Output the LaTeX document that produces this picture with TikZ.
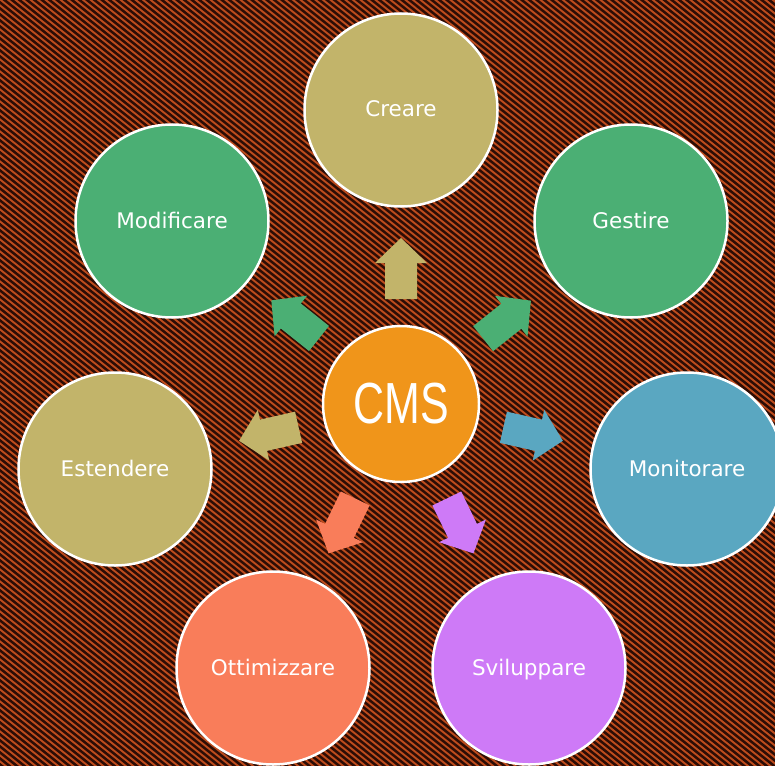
\documentclass[tikz,border=0pt]{standalone}
\usepackage{fontspec}
\setmainfont{DejaVu Sans}
\newfontfamily\cmsfont{Liberation Sans}
\usetikzlibrary{calc}
\definecolor{tanc}{HTML}{C2B46A}
\definecolor{greenc}{HTML}{4BAF74}
\definecolor{bluec}{HTML}{5AA7C1}
\definecolor{purplec}{HTML}{CE7AF7}
\definecolor{coralc}{HTML}{F97D5A}
\definecolor{orangec}{HTML}{F0951A}
\definecolor{bgorange}{HTML}{BE4C1D}
\definecolor{bgdark}{HTML}{2D0D05}
\tikzset{
  petal/.style={circle, draw=white, line width=2.5pt, minimum size=193pt, inner sep=0pt,
    text=white, font=\fontsize{21.5}{25}\selectfont, text height=15pt, text depth=1pt},
  hub/.style={circle, draw=white, line width=2.5pt, minimum size=156pt, inner sep=0pt,
    text=white, fill=orangec},
  stripe/.style={bgdark, line width=2.5pt}
}
\newcommand\petalarrow[2]{%
  \fill[#2] ($(cms)!105pt!(#1)!16pt!90:(#1)$) -- ($(cms)!141pt!(#1)!16pt!90:(#1)$)
    -- ($(cms)!141pt!(#1)!26pt!90:(#1)$) -- ($(cms)!166pt!(#1)$)
    -- ($(cms)!141pt!(#1)!26pt!-90:(#1)$) -- ($(cms)!141pt!(#1)!16pt!-90:(#1)$)
    -- ($(cms)!105pt!(#1)!16pt!-90:(#1)$) -- cycle;}
\begin{document}
\begin{tikzpicture}[x=1pt, y=-1pt]
\useasboundingbox (0,0) rectangle (775,765);
\clip (-3,-3) rectangle (778,768);
\fill[bgorange] (-3,-3) rectangle (778,768);
\foreach \k in {-110,...,130} \draw[stripe] (-3,{\k*6}) -- (778,{\k*6+625});
\node[hub] (cms) at (401,404) {\cmsfont\fontsize{58}{60}\selectfont\scalebox{0.74}[1]{CMS}};
\node[petal, fill=tanc] (creare) at (401,110) {Creare};
\node[petal, fill=greenc] (gestire) at (631,221) {Gestire};
\node[petal, fill=greenc] (modificare) at (172,221) {Modificare};
\node[petal, fill=bluec] (monitorare) at (687,469) {Monitorare};
\node[petal, fill=tanc] (estendere) at (115,469) {Estendere};
\node[petal, fill=coralc] (ottimizzare) at (273,668) {Ottimizzare};
\node[petal, fill=purplec] (sviluppare) at (529,668) {Sviluppare};
\petalarrow{creare}{tanc}
\petalarrow{gestire}{greenc}
\petalarrow{modificare}{greenc}
\petalarrow{monitorare}{bluec}
\petalarrow{estendere}{tanc}
\petalarrow{ottimizzare}{coralc}
\petalarrow{sviluppare}{purplec}
\end{tikzpicture}
\end{document}
